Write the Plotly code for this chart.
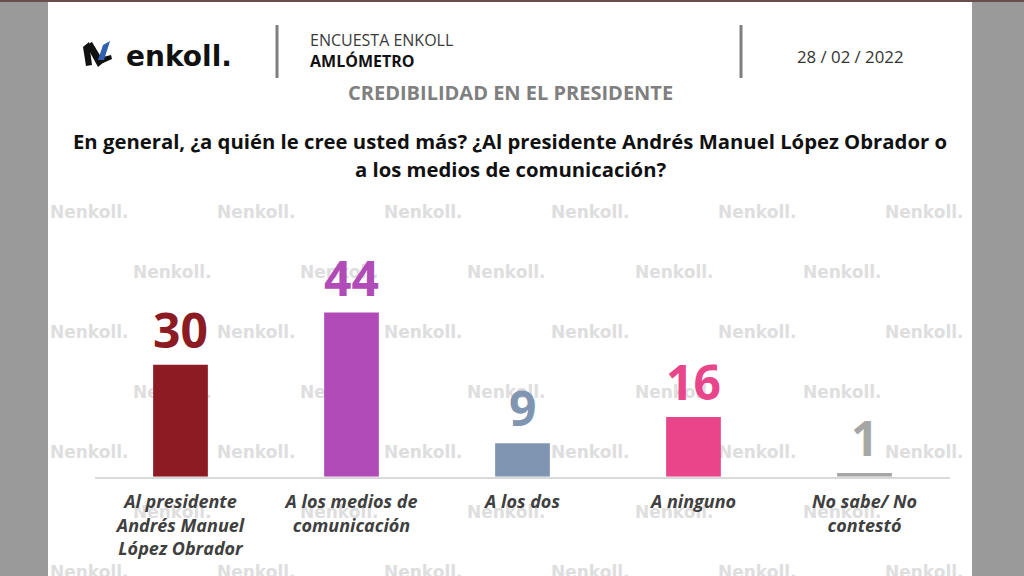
import plotly.graph_objects as go

categories = ["Al presidente<br>Andrés Manuel<br>López Obrador",
              "A los medios de<br>comunicación",
              "A los dos",
              "A ninguno",
              "No sabe/ No<br>contestó"]
values = [30, 44, 9, 16, 1]
bar_colors = ["#8C1B23", "#B04BB7", "#8095B1", "#E8458A", "#A6A6A6"]

title_text = "CREDIBILIDAD EN EL PRESIDENTE"
question_lines = ["En general, ¿a quién le cree usted más? ¿Al presidente Andrés Manuel López Obrador o",
                  "a los medios de comunicación?"]
survey_name = "ENCUESTA ENKOLL"
survey_sub = "AMLÓMETRO"
date_text = "28 / 02 / 2022"

W, H = 1024, 576
FONT = "Open Sans"

fig = go.Figure()

# watermark grid (decorative), on the full-page base axes
wm_x, wm_y = [], []
for r, yy in enumerate([214, 274, 334, 394, 454, 514, 574]):
    lefts = [50, 217, 384, 551, 718, 885] if r % 2 == 0 else [133, 300, 467, 635, 803]
    for xx in lefts:
        wm_x.append(xx)
        wm_y.append(yy)
fig.add_trace(go.Scatter(x=wm_x, y=wm_y, mode="text", text=["Nenkoll."] * len(wm_x),
                         textposition="middle right",
                         textfont=dict(family="DejaVu Sans", size=17, color="#dedede", weight="bold"),
                         hoverinfo="skip", showlegend=False, xaxis="x", yaxis="y",
                         cliponaxis=True))

fig.add_trace(go.Bar(x=categories, y=values, marker=dict(color=bar_colors, line=dict(width=0)),
                     xaxis="x2", yaxis="y2", showlegend=False, hoverinfo="skip"))

# value labels
for c, v, col in zip(categories, values, bar_colors):
    fig.add_annotation(x=c, y=v, xref="x2", yref="y2", text=str(v), showarrow=False,
                       yanchor="bottom", yshift=1,
                       font=dict(family=FONT, size=48, color=col, weight="bold"))

shapes = []
# side bars and top rule (paper coordinates, margins are zero)
shapes.append(dict(type="rect", xref="paper", yref="paper", x0=0, x1=48 / W, y0=0, y1=1,
                   fillcolor="#9a9a9a", line=dict(width=0), layer="above"))
shapes.append(dict(type="rect", xref="paper", yref="paper", x0=972 / W, x1=1, y0=0, y1=1,
                   fillcolor="#9a9a9a", line=dict(width=0), layer="above"))
shapes.append(dict(type="rect", xref="paper", yref="paper", x0=0, x1=1, y0=1 - 2 / H, y1=1,
                   fillcolor="#6a4c4c", line=dict(width=0), layer="above"))
# header separators
for sx in [277, 741]:
    shapes.append(dict(type="line", xref="x", yref="y", x0=sx, x1=sx, y0=25, y1=78,
                       line=dict(color="#7f7f7f", width=3)))
# logo icon
shapes.append(dict(type="path", xref="x", yref="y",
                   path="M83,47 L89,42 L92,65 L86,66 Z",
                   fillcolor="#111111", line=dict(width=0)))
shapes.append(dict(type="path", xref="x", yref="y",
                   path="M86,45 L92,42 L104,62 L98,67 Z",
                   fillcolor="#111111", line=dict(width=0)))
shapes.append(dict(type="path", xref="x", yref="y",
                   path="M99,58 L111,55 L112,59 L103,63 Z",
                   fillcolor="#111111", line=dict(width=0)))
shapes.append(dict(type="path", xref="x", yref="y",
                   path="M103,45 L110,41 L104,60 L98,60 Z",
                   fillcolor="#2f5fb0", line=dict(width=0)))

fig.update_layout(shapes=shapes)

ann = [
    dict(x=124, y=56, text="enkoll.", xanchor="left",
         font=dict(family="DejaVu Sans", size=28, color="#111111", weight="bold")),
    dict(x=308, y=40, text=survey_name, xanchor="left",
         font=dict(family=FONT, size=16, color="#3a3a3a")),
    dict(x=308, y=61, text=survey_sub, xanchor="left",
         font=dict(family=FONT, size=16, color="#111111", weight="bold")),
    dict(x=850, y=56, text=date_text, xanchor="center",
         font=dict(family=FONT, size=16.8, color="#333333")),
    dict(x=510, y=92, text=title_text, xanchor="center",
         font=dict(family=FONT, size=20, color="#7f7f7f", weight="bold")),
    dict(x=510, y=141, text=question_lines[0], xanchor="center",
         font=dict(family=FONT, size=20.3, color="#111111", weight="bold")),
    dict(x=510, y=169, text=question_lines[1], xanchor="center",
         font=dict(family=FONT, size=20.3, color="#111111", weight="bold")),
]
for a in ann:
    fig.add_annotation(xref="x", yref="y", showarrow=False, yanchor="middle", **a)

base_y = 476.7
ymax = 50
px_per_unit = 3.73
top_y = base_y - ymax * px_per_unit

fig.update_layout(
    width=W, height=H,
    margin=dict(l=0, r=0, t=0, b=0),
    paper_bgcolor="white",
    plot_bgcolor="rgba(0,0,0,0)",
    bargap=0.68,
    xaxis=dict(domain=[0, 1], range=[0, W], visible=False, fixedrange=True),
    yaxis=dict(domain=[0, 1], range=[H, 0], visible=False, fixedrange=True),
    xaxis2=dict(domain=[95 / W, 950 / W], anchor="y2", showline=True, linecolor="#d9d9d9",
                linewidth=2, showgrid=False, zeroline=False, ticks="", fixedrange=True,
                ticklabelstandoff=8,
                tickfont=dict(family=FONT, size=18, color="#404040", weight="bold", style="italic")),
    yaxis2=dict(domain=[(H - base_y) / H, (H - top_y) / H], anchor="x2", range=[0, ymax],
                visible=False, showgrid=False, zeroline=False, fixedrange=True),
)

fig.write_html("out.html", config={"displayModeBar": False},
               post_script="document.body.style.margin='0';document.body.style.padding='0';")
